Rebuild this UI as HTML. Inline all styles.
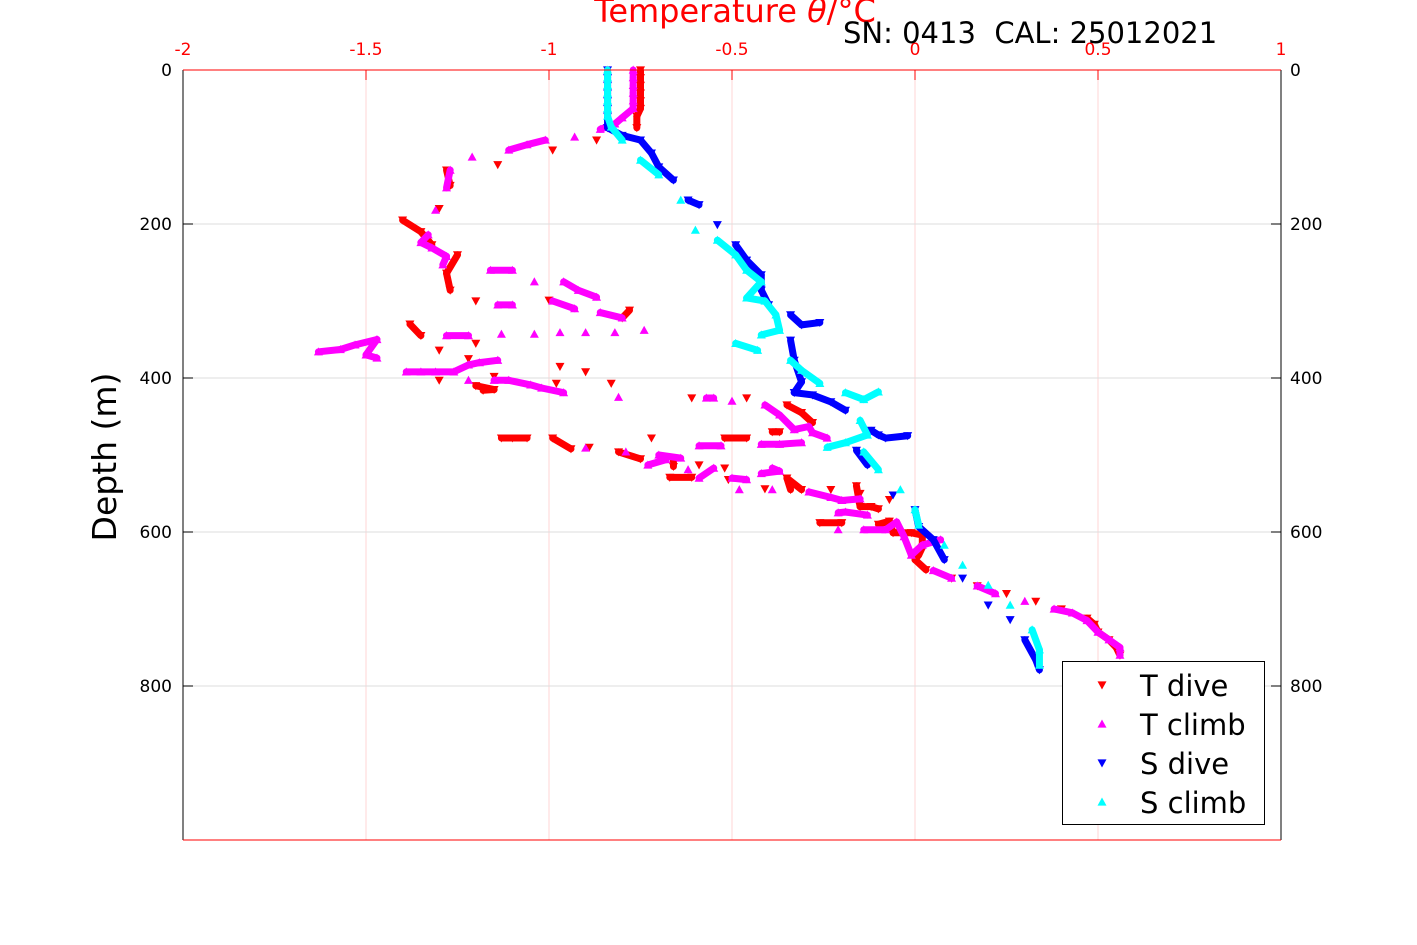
<!DOCTYPE html>
<html><head><meta charset="utf-8"><style>
body{margin:0;background:#fff;}
svg{display:block;font-family:"DejaVu Sans","Liberation Sans",sans-serif;}
text{white-space:pre;}
</style></head><body>
<svg id="chart" width="1417" height="945" viewBox="0 0 1417 945" xmlns="http://www.w3.org/2000/svg">
<rect width="1417" height="945" fill="#fff"/>
<g id="grid"></g>
<g id="series"></g>
<g id="axes"></g>
<text x="735" y="22" text-anchor="middle" font-size="32" fill="#ff0000">Temperature <tspan font-style="italic">θ</tspan>/°C</text>
<text x="843" y="43" font-size="29" fill="#000" xml:space="preserve">SN: 0413  CAL: 25012021</text>
<text x="0" y="0" transform="translate(116,457) rotate(-90)" text-anchor="middle" font-size="33" fill="#000">Depth (m)</text>
<g id="legend"></g>
</svg>
<script>
const xTicks = [-2, -1.5, -1, -0.5, 0, 0.5, 1];
const xTickLabels = ["-2", "-1.5", "-1", "-0.5", "0", "0.5", "1"];
const yTicks = [0, 200, 400, 600, 800];
const yTickLabels = ["0", "200", "400", "600", "800"];
const seriesNames = ["T dive", "T climb", "S dive", "S climb"];

const tDiveVal = [-0.75,-0.75,-0.75,-0.75,-0.75,-0.75,-0.76,-0.76,-0.87,-0.99,-1.14,-1.28,-1.27,-1.3,-1.4,-1.35,-1.32,-1.25,-1.28,-1.27,-1.2,-1.0,-0.78,-0.8,-1.38,-1.35,-1.2,-1.3,-1.22,-0.97,-0.9,-1.15,-1.3,-1.2,-1.15,-1.18,-0.98,-0.83,-0.61,-0.46,-0.35,-0.31,-0.28,-1.13,-1.1,-1.06,-0.99,-0.94,-0.72,-0.52,-0.46,-0.39,-0.37,-0.89,-0.81,-0.75,-0.66,-0.66,-0.59,-0.52,-0.67,-0.61,-0.51,-0.41,-0.31,-0.35,-0.34,-0.23,-0.15,-0.07,-0.16,-0.15,-0.12,-0.1,-0.26,-0.2,-0.1,-0.07,-0.06,-0.01,0.02,0.02,0.01,0.0,0.03,0.1,0.17,0.25,0.33,0.4,0.47,0.49,0.5,0.53,0.55,0.56];
const tDiveDepth = [0,10,20,30,40,50,60,75,91,104,123,130,150,180,195,210,227,240,264,286,300,299,312,322,330,345,355,364,375,385,392,398,403,410,415,416,407,407,426,426,435,445,458,478,478,478,478,492,478,478,478,470,470,490,496,505,504,515,513,517,529,529,532,544,545,530,545,545,550,558,540,567,567,570,588,588,590,586,601,601,604,620,630,636,649,660,670,680,690,700,712,720,730,740,750,760];

const tClimbVal = [-0.77,-0.77,-0.77,-0.77,-0.77,-0.77,-0.8,-0.82,-0.86,-0.93,-1.01,-1.06,-1.11,-1.21,-1.27,-1.28,-1.31,-1.33,-1.35,-1.32,-1.28,-1.29,-1.16,-1.1,-1.04,-0.96,-0.92,-0.87,-1.14,-1.1,-0.99,-0.93,-0.86,-0.8,-0.74,-0.9,-0.82,-0.97,-1.04,-1.13,-1.22,-1.28,-1.63,-1.57,-1.53,-1.47,-1.5,-1.47,-1.39,-1.35,-1.31,-1.26,-1.22,-1.19,-1.14,-1.22,-1.15,-1.11,-1.05,-1.02,-0.96,-0.81,-0.55,-0.57,-0.5,-0.41,-0.37,-0.33,-0.29,-0.28,-0.24,-0.31,-0.37,-0.42,-0.53,-0.59,-0.9,-0.79,-0.7,-0.64,-0.73,-0.68,-0.62,-0.55,-0.59,-0.5,-0.46,-0.39,-0.37,-0.42,-0.48,-0.39,-0.29,-0.23,-0.2,-0.15,-0.21,-0.19,-0.13,-0.21,-0.14,-0.08,-0.05,-0.03,-0.01,0.02,0.07,0.05,0.1,0.17,0.22,0.3,0.38,0.43,0.47,0.5,0.53,0.56,0.56];
const tClimbDepth = [0,10,20,30,40,50,62,70,77,87,91,97,104,113,130,153,182,214,224,231,242,253,260,260,275,275,286,295,305,305,300,310,315,322,338,341,341,341,343,343,345,345,366,363,357,350,370,374,392,392,392,392,383,380,377,403,403,403,409,413,419,425,426,426,430,435,448,467,463,471,478,484,486,486,488,488,491,496,500,504,513,506,519,517,530,530,532,517,521,524,545,545,548,555,559,557,575,574,578,597,597,597,587,606,630,617,610,650,660,670,680,690,700,705,715,730,740,750,760];

const sDiveVal = [-0.84,-0.84,-0.84,-0.84,-0.84,-0.84,-0.84,-0.84,-0.8,-0.75,-0.72,-0.7,-0.66,-0.62,-0.59,-0.54,-0.49,-0.46,-0.42,-0.42,-0.4,-0.34,-0.31,-0.26,-0.34,-0.33,-0.31,-0.33,-0.28,-0.23,-0.19,-0.12,-0.1,-0.08,-0.02,-0.16,-0.13,-0.06,0.0,0.01,0.05,0.08,0.13,0.2,0.26,0.3,0.33,0.34];
const sDiveDepth = [0,10,20,30,40,50,60,75,85,91,108,126,143,169,175,201,227,247,266,286,305,318,331,328,351,377,405,419,422,431,442,468,474,478,475,494,513,552,571,593,610,636,660,695,714,740,766,779];

const sClimbVal = [-0.84,-0.84,-0.84,-0.84,-0.84,-0.84,-0.84,-0.83,-0.8,-0.75,-0.7,-0.64,-0.6,-0.54,-0.49,-0.46,-0.42,-0.46,-0.41,-0.38,-0.37,-0.42,-0.49,-0.43,-0.34,-0.31,-0.26,-0.19,-0.14,-0.1,-0.15,-0.13,-0.19,-0.24,-0.14,-0.1,-0.04,0.0,0.01,0.08,0.13,0.2,0.26,0.32,0.34,0.34];
const sClimbDepth = [0,10,20,30,40,50,60,74,91,117,136,169,208,221,240,260,275,296,300,318,338,344,355,364,377,390,407,419,428,418,455,474,484,490,496,519,545,571,591,617,643,669,695,727,753,773];

const X0 = 183, X1 = 1281, Y0 = 70, Y1 = 840;
function xScale(v){ return X0 + (v - (-2)) / 3 * (X1 - X0); }
function yScale(d){ return Y0 + d / 1000 * (Y1 - Y0); }
const NS = "http://www.w3.org/2000/svg";
function mk(tag, attrs, parent){
  const e = document.createElementNS(NS, tag);
  for (const k in attrs) e.setAttribute(k, attrs[k]);
  parent.appendChild(e);
  return e;
}
const gridG = document.getElementById('grid');
const axesG = document.getElementById('axes');
const seriesG = document.getElementById('series');

xTicks.forEach((t, i) => {
  const x = xScale(t);
  if (i > 0 && i < xTicks.length - 1) {
    const g = mk('line', {x1:x, x2:x, y1:Y0, y2:Y1, stroke:'#ffd6d6', 'stroke-width':1}, gridG);
    
    
  }
  const tk = mk('line', {x1:x, x2:x, y1:Y0, y2:Y0+10, stroke:'#ff0000', 'stroke-width':1}, axesG);
  
  
  const lb = mk('text', {x:x, y:55, 'text-anchor':'middle', 'font-size':17, fill:'#ff0000'}, axesG);
  lb.textContent = xTickLabels[i];
  
  
});
yTicks.forEach((t, i) => {
  const y = yScale(t);
  if (i > 0) {
    const g = mk('line', {x1:X0, x2:X1, y1:y, y2:y, stroke:'#dddddd', 'stroke-width':1}, gridG);
    
    
  }
  mk('line', {x1:X0, x2:X0+10, y1:y, y2:y, stroke:'#000', 'stroke-width':1}, axesG);
  mk('line', {x1:X1-10, x2:X1, y1:y, y2:y, stroke:'#000', 'stroke-width':1}, axesG);
  const l1 = mk('text', {x:172, y:y+6, 'text-anchor':'end', 'font-size':17, fill:'#000'}, axesG);
  l1.textContent = yTickLabels[i];
  
  
  const l2 = mk('text', {x:1290, y:y+6, 'text-anchor':'start', 'font-size':17, fill:'#000'}, axesG);
  l2.textContent = yTickLabels[i];
  
  
});
const leftAxis = mk('line', {x1:X0, x2:X0, y1:Y0, y2:Y1, stroke:'#000', 'stroke-width':1}, axesG);


const rightAxis = mk('line', {x1:X1, x2:X1, y1:Y0, y2:Y1, stroke:'#000', 'stroke-width':1}, axesG);


const topAxis = mk('line', {x1:X0, x2:X1, y1:Y0, y2:Y0, stroke:'#ff0000', 'stroke-width':1}, axesG);


const bottomAxis = mk('line', {x1:X0, x2:X1, y1:Y1, y2:Y1, stroke:'#ff0000', 'stroke-width':1}, axesG);



function tri(x, y, up, s){
  return up ? `${x-s},${y+s*0.8} ${x+s},${y+s*0.8} ${x},${y-s}` : `${x-s},${y-s*0.8} ${x+s},${y-s*0.8} ${x},${y+s}`;
}
function drawSeries(vals, depths, color, up, name){
  const g = mk('g', {}, seriesG);
  
  
  const n = Math.min(vals.length, depths.length);
  for (let i = 1; i < n; i++) {
    const xa = xScale(vals[i-1]), ya = yScale(depths[i-1]);
    const xb = xScale(vals[i]), yb = yScale(depths[i]);
    if (Math.hypot(xb-xa, yb-ya) < 24) {
      const ln = mk('line', {x1:xa, y1:ya, x2:xb, y2:yb, stroke:color, 'stroke-width':7, 'stroke-linecap':'round'}, g);
      
      
    }
  }
  for (let i = 0; i < n; i++) {
    const p = mk('polygon', {points: tri(xScale(vals[i]), yScale(depths[i]), up, 4.5), fill:color}, g);
    
    
  }
}
drawSeries(tDiveVal, tDiveDepth, '#ff0000', false, 't-dive');
drawSeries(tClimbVal, tClimbDepth, '#ff00ff', true, 't-climb');
drawSeries(sDiveVal, sDiveDepth, '#0000ff', false, 's-dive');
drawSeries(sClimbVal, sClimbDepth, '#00ffff', true, 's-climb');

const legendG = document.getElementById('legend');
const box = mk('rect', {x:1062.5, y:661.5, width:202, height:163, fill:'#fff', stroke:'#000', 'stroke-width':1}, legendG);


const lColors = ['#ff0000', '#ff00ff', '#0000ff', '#00ffff'];
const lUp = [false, true, false, true];
seriesNames.forEach((nm, i) => {
  const y = 685 + i * 39;
  const m = mk('polygon', {points: tri(1102, y, lUp[i], 4.5), fill:lColors[i]}, legendG);
  
  
  const t = mk('text', {x:1140, y:y+11, 'font-size':29, fill:'#000'}, legendG);
  t.textContent = nm;
  
  
});
</script>
</body></html>
